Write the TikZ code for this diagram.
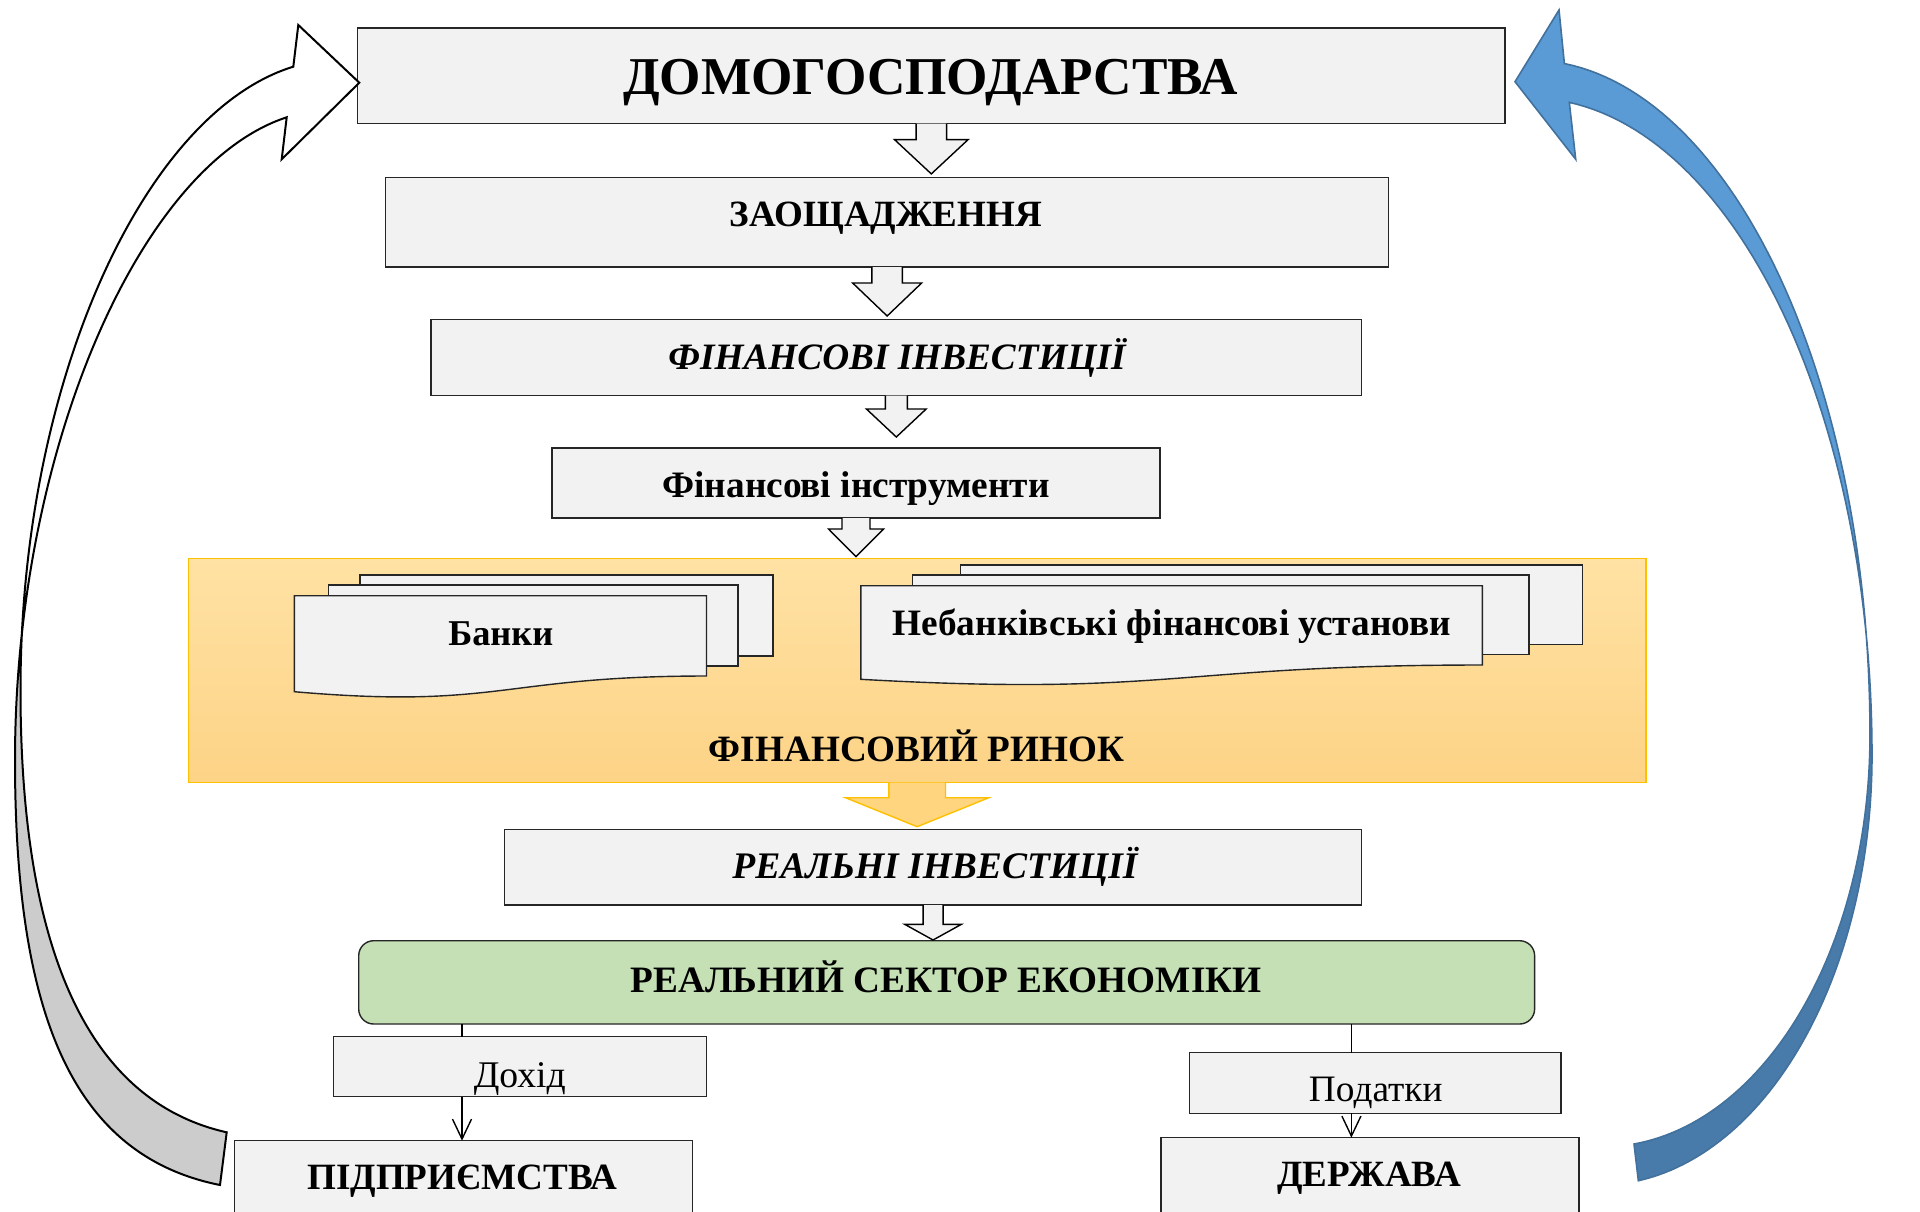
\documentclass[tikz,border=0pt]{standalone}
\usepackage{fontspec}
\setmainfont{Liberation Serif}
\usepackage{graphicx}
\usetikzlibrary{calc,arrows.meta,intersections}
\definecolor{boxfill}{HTML}{F2F2F2}
\definecolor{boxline}{HTML}{262626}
\definecolor{greenfill}{HTML}{C5E0B4}
\definecolor{paneltop}{HTML}{FFE2A4}
\definecolor{panelbot}{HTML}{FDD386}
\definecolor{gold}{HTML}{FFC000}
\definecolor{yellowarr}{HTML}{FFD57F}
\definecolor{arrgray}{HTML}{CCCCCC}
\definecolor{blueup}{HTML}{5B9BD5}
\definecolor{bluedn}{HTML}{487BAA}
\definecolor{bluebd}{HTML}{41719C}
\newcommand\fitw[2]{\resizebox{#1pt}{!}{#2}}
\newcommand\rbox[6]{\node[#6, minimum width={(#4-#2)*0.5pt}, minimum height={(#5-#3)*0.5pt}] (#1) at ({(#2+#4)/2},{(#3+#5)/2}) {};}
\newcommand\blockarr[6]{%
 \filldraw[#6] ($(#1.south)+(-#4,0)$) -- ($(#1.south)+(-#4,#2)$) -- ($(#1.south)+(-#5,#2)$) -- ($(#1.south)+(0,#3)$) -- ($(#1.south)+(#5,#2)$) -- ($(#1.south)+(#4,#2)$) -- ($(#1.south)+(#4,0)$);}
\newcommand\leftoutline{(293.3,66.7) .. controls (145,112) and (20.5,380) .. (20.5,690) .. controls (20.5,970) and (98.7,1103.5) .. (226.7,1132.3) -- (220,1185) .. controls (70,1155) and (15,1010) .. (15,760) .. controls (15,450) and (140,165) .. (286.7,117.3) -- (281.7,159.3) -- (359.3,82.7) -- (298.3,25) -- cycle}
\newcommand\blueoutline{plot[domain=84.2:0, samples=60] ({1530+340*cos(\x)},{734.8-674.7*sin(\x)}) -- plot[domain=0:83.33, samples=60] ({1603+267*cos(\x)},{734.8+412*sin(\x)}) -- plot[domain=81.9:0, samples=60] ({1600+272*cos(\x)},{755+430*sin(\x)}) -- plot[domain=0:83.4, samples=60] ({1530+342*cos(\x)},{755-657*sin(\x)}) -- (1575.7,159.3) -- (1515,81.7) -- (1559,10) -- cycle}
\begin{document}
\begin{tikzpicture}[x=0.5pt,y=-0.5pt,
  box/.style={rectangle, draw=boxline, fill=boxfill, line width=0.7pt, inner sep=0pt, outer sep=0pt},
  greenst/.style={box, fill=greenfill, rounded corners=7.5pt},
  panelst/.style={rectangle, draw=gold, line width=0.8pt, top color=paneltop, bottom color=panelbot, inner sep=0pt, outer sep=0pt},
  doc/.style={draw=boxline, fill=boxfill, line width=0.7pt},
  blk/.style={draw=black, fill=boxfill, line width=0.7pt, line join=miter},
  yblk/.style={draw=gold, fill=yellowarr, line width=0.7pt, line join=miter},
  txt/.style={inner sep=0pt, outer sep=0pt, anchor=base},
  conn/.style={draw=black, line width=0.7pt},
  larrow/.style={draw=black, line width=1pt, line join=miter},
  barrow/.style={draw=bluebd, line width=0.8pt, line join=miter}]
\useasboundingbox (0,0) rectangle (1920,1211);
\clip (0,0) rectangle (1920,1211);
\fill[white] (0,0) rectangle (1920,1211);

% financial market panel
\rbox{panel}{188.6}{558.3}{1645.7}{782.5}{panelst}

% banks (multi document)
\filldraw[doc] (360,575) rectangle (773,656);
\filldraw[doc] (328.2,585) rectangle (738,666);
\filldraw[doc] (294.3,595.7) -- (706.5,595.7) -- (706.5,676) .. controls (500.4,676) and (500.4,709.5) .. (294.3,691.7) -- cycle;
% non-bank institutions
\filldraw[doc] (960.2,565) rectangle (1582.6,644.3);
\filldraw[doc] (912.7,575) rectangle (1528.8,654.3);
\filldraw[doc] (860.8,585.7) -- (1482.3,585.7) -- (1482.3,665) .. controls (1171.5,665) and (1171.5,696.7) .. (860.8,679.3) -- cycle;

% boxes
\rbox{b1}{357.6}{28}{1505}{123.7}{box}
\rbox{b2}{385.7}{177.5}{1388.6}{267}{box}
\rbox{b3}{431}{319.6}{1361.6}{395.5}{box}
\rbox{b4}{552}{448}{1160}{518}{box}
\rbox{b5}{504.5}{829.3}{1361.6}{905}{box}
\rbox{b6}{358.7}{940.7}{1534.6}{1024}{greenst}
\rbox{b7}{333.5}{1036.7}{706.2}{1096.7}{box}
\rbox{b8}{234.6}{1140.7}{692.2}{1240}{box}
\rbox{b9}{1189.3}{1052.7}{1561.1}{1113.3}{box}
\rbox{b10}{1160.8}{1137.7}{1578.8}{1240}{box}

% block arrows
\blockarr{b1}{15.9}{50.2}{15.25}{36.8}{blk}
\blockarr{b2}{16}{49}{15.25}{34.5}{blk}
\blockarr{b3}{13.5}{41.5}{11}{29.85}{blk}
\blockarr{b4}{11}{38.7}{14}{27.5}{blk}
\blockarr{panel}{15.2}{44.2}{28.35}{71.65}{yblk}
\blockarr{b5}{19.3}{35}{10}{28.35}{blk}

% connectors
\coordinate (c1) at (462,0);
\coordinate (c2) at (1351.4,0);
\draw[conn] (b6.south -| c1) -- (b7.north -| c1);
\draw[conn, -{Straight Barb[length=10pt,width=9.5pt]}] (b7.south -| c1) -- (b8.north -| c1);
\draw[conn] (b6.south -| c2) -- (b9.north -| c2);
\draw[conn, -{Straight Barb[length=10pt,width=9.5pt]}] (b9.south -| c2) -- (b10.north -| c2);

% texts
\node[txt] (t1) at (930.6,94.5) {\fitw{307.5}{\bfseries ДОМОГОСПОДАРСТВА}};
\node[txt] (t2) at (886,226) {\fitw{156}{\bfseries ЗАОЩАДЖЕННЯ}};
\node[txt] (t3) at (897,369) {\fitw{228.5}{\bfseries\itshape ФІНАНСОВІ ІНВЕСТИЦІЇ}};
\node[txt] (t4) at (856,497) {\fitw{193.5}{\bfseries Фінансові інструменти}};
\node[txt] (t5) at (500.8,645) {\fitw{52.5}{\bfseries Банки}};
\node[txt] (t6) at (1171.8,635) {\fitw{279}{\bfseries Небанківські фінансові установи}};
\node[txt] (t7) at (916.5,761) {\fitw{207.5}{\bfseries ФІНАНСОВИЙ РИНОК}};
\node[txt] (t8) at (935,878) {\fitw{202.5}{\bfseries\itshape РЕАЛЬНІ ІНВЕСТИЦІЇ}};
\node[txt] (t9) at (946,992.5) {\fitw{315.5}{\bfseries РЕАЛЬНИЙ СЕКТОР ЕКОНОМІКИ}};
\node[txt] (t10) at (519.8,1087) {\fitw{46}{Дохід}};
\node[txt] (t11) at (1375.7,1101.5) {\fitw{66.75}{Податки}};
\node[txt] (t12) at (462.3,1189) {\fitw{155}{\bfseries ПІДПРИЄМСТВА}};
\node[txt] (t13) at (1369,1186.5) {\fitw{92}{\bfseries ДЕРЖАВА}};

% left curved arrow (white upper part, grey lower part)
\path[name path=le1] (293.3,66.7) .. controls (145,112) and (20.5,380) .. (20.5,690) .. controls (20.5,970) and (98.7,1103.5) .. (226.7,1132.3);
\path[name path=le2] (286.7,117.3) .. controls (140,165) and (15,450) .. (15,760) .. controls (15,1010) and (70,1155) .. (220,1185);
\path[name intersections={of=le1 and le2, by={LX}}];
\coordinate (LA) at (0,0);
\coordinate (LB) at (420,1211);
\begin{scope}
  \clip (LA) rectangle (LB |- LX);
  \fill[white] \leftoutline;
\end{scope}
\begin{scope}
  \clip (LA |- LX) rectangle (LB);
  \fill[arrgray] \leftoutline;
\end{scope}
\draw[larrow] \leftoutline;

% right curved arrow (light upper part, dark lower part)
\path[name path=be1] plot[domain=84.2:0, samples=60] ({1530+340*cos(\x)},{734.8-674.7*sin(\x)}) -- plot[domain=0:83.33, samples=60] ({1603+267*cos(\x)},{734.8+412*sin(\x)});
\path[name path=be2] plot[domain=83.4:0, samples=60] ({1530+342*cos(\x)},{755-657*sin(\x)}) -- plot[domain=0:81.9, samples=60] ({1600+272*cos(\x)},{755+430*sin(\x)});
\path[name intersections={of=be1 and be2, by={BX}}];
\coordinate (RA) at (1480,0);
\coordinate (RB) at (1920,1211);
\begin{scope}
  \clip (RA) rectangle (RB |- BX);
  \fill[blueup] \blueoutline;
\end{scope}
\begin{scope}
  \clip (RA |- BX) rectangle (RB);
  \fill[bluedn] \blueoutline;
\end{scope}
\draw[barrow] \blueoutline;
\end{tikzpicture}
\end{document}
